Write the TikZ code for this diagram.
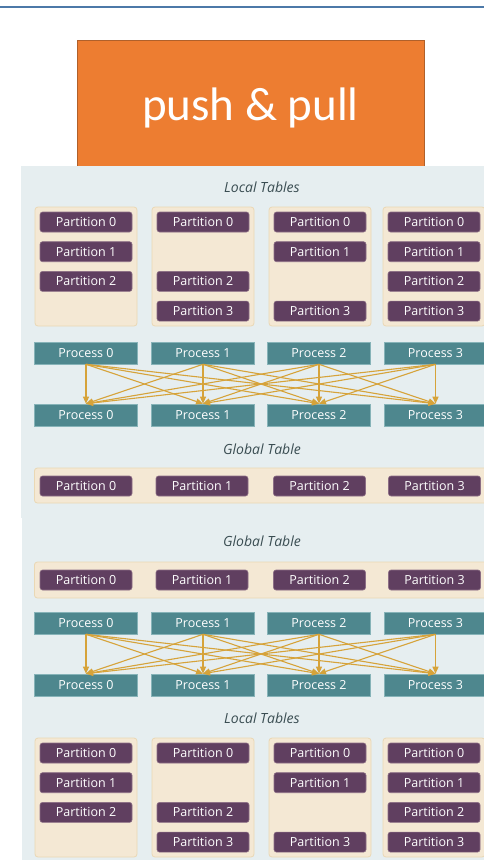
\documentclass[tikz,border=0pt]{standalone}
\usepackage{fontspec}
\setmainfont{Open Sans}
\newfontfamily\calib{Carlito}
\usetikzlibrary{arrows.meta}
\definecolor{topline}{HTML}{4C79A8}
\definecolor{orangefill}{HTML}{ED7D31}
\definecolor{orangeedge}{HTML}{B0602A}
\definecolor{panel}{HTML}{E6EEF0}
\definecolor{beige}{HTML}{F4E8D4}
\definecolor{beigeedge}{HTML}{EAD8B4}
\definecolor{purple}{HTML}{603F60}
\definecolor{purpleedge}{HTML}{8C6E85}
\definecolor{teal}{HTML}{4E878E}
\definecolor{tealedge}{HTML}{86B3B8}
\definecolor{gold}{HTML}{D6A33A}
\definecolor{labelcol}{HTML}{3A4D52}
\tikzset{
  part/.style={draw=purpleedge, line width=0.6pt, fill=purple, rounded corners=2.5pt,
    minimum width=92pt, minimum height=20pt, inner sep=0pt, text=white, font=\fontsize{12.5}{14}\selectfont},
  proc/.style={draw=tealedge, line width=0.6pt, fill=teal, minimum width=103pt, minimum height=22pt,
    inner sep=0pt, text=white, font=\fontsize{12.5}{14}\selectfont},
  holder/.style={draw=beigeedge, line width=0.8pt, fill=beige, rounded corners=3pt, inner sep=0pt},
  tablabel/.style={text=labelcol, font=\fontsize{14}{16}\selectfont\itshape, inner sep=0pt},
  conn/.style={draw=gold, line width=1.1pt, -{Triangle[length=7pt,width=6pt]}},
}
\begin{document}
\begin{tikzpicture}[x=1pt,y=-1pt]
\clip (0,0) rectangle (484,860);
\useasboundingbox (0,0) rectangle (484,860);
\fill[white] (0,0) rectangle (484,860);
% top rule
\draw[topline, line width=2pt] (0,7.3) -- (484,7.3);
% title box
\node[draw=orangeedge, line width=1pt, fill=orangefill, minimum width=347pt, minimum height=140pt,
  anchor=north west, inner sep=0pt] (title) at (77,40) {};
\node[text=white, font=\calib\fontsize{47}{50}\selectfont, anchor=base, inner sep=0pt] (titletext) at (250.5,120) {push \& pull};
% panels
\fill[panel] (21,166) rectangle (484,517.5);
\fill[panel] (21.5,517.5) rectangle (484,860);

% ---------- upper half ----------
\node[tablabel] (lt1) at (262,187) {Local Tables};
\foreach \c/\x in {0/86,1/203,2/320,3/434}{
  \node[holder, minimum width=102pt, minimum height=119pt] (h1c\c) at (\x,266.5) {};
}
\foreach \r/\y in {0/222,1/251,2/281,3/311}{
  \coordinate (ya\r) at (0,\y);
}
% column 0: 0 1 2
\foreach \p in {0,1,2}{ \node[part] (a0p\p) at (86,{222+29.7*\p}) {Partition \p}; }
% column 1: 0 2 3
\foreach \p in {0,2,3}{ \node[part] (a1p\p) at (203,{222+29.7*\p}) {Partition \p}; }
% column 2: 0 1 3
\foreach \p in {0,1,3}{ \node[part] (a2p\p) at (320,{222+29.7*\p}) {Partition \p}; }
% column 3: 0 1 2 3
\foreach \p in {0,1,2,3}{ \node[part] (a3p\p) at (434,{222+29.7*\p}) {Partition \p}; }

\foreach \i/\x in {0/86,1/203,2/319,3/435.5}{
  \node[proc] (pa\i) at (\x,353) {Process \i};
  \node[proc] (pb\i) at (\x,415) {Process \i};
}
\foreach \i in {0,...,3}{
  \foreach \j in {0,...,3}{
    \draw[conn] (pa\i.south) -- (pb\j.north);
  }
}
\node[tablabel] (gt1) at (262,449) {Global Table};
\node[holder, minimum width=460pt, minimum height=35pt, anchor=west] (g1) at (34,485.5) {};
\foreach \p/\x in {0/86,1/202,2/319.5,3/434.5}{
  \node[part] (g1p\p) at (\x,486) {Partition \p};
}

% ---------- lower half ----------
\node[tablabel] (gt2) at (262,541) {Global Table};
\node[holder, minimum width=460pt, minimum height=36pt, anchor=west] (g2) at (34,580) {};
\foreach \p/\x in {0/86,1/202,2/319.5,3/434.5}{
  \node[part] (g2p\p) at (\x,580) {Partition \p};
}
\foreach \i/\x in {0/86,1/203,2/319,3/435.5}{
  \node[proc] (qa\i) at (\x,623) {Process \i};
  \node[proc] (qb\i) at (\x,685) {Process \i};
}
\foreach \i in {0,...,3}{
  \foreach \j in {0,...,3}{
    \draw[conn] (qa\i.south) -- (qb\j.north);
  }
}
\node[tablabel] (lt2) at (262,718) {Local Tables};
\foreach \c/\x in {0/86,1/203,2/320,3/434}{
  \node[holder, minimum width=102pt, minimum height=119pt] (h2c\c) at (\x,797.5) {};
}
\foreach \p in {0,1,2}{ \node[part] (b0p\p) at (86,{753+29.7*\p}) {Partition \p}; }
\foreach \p in {0,2,3}{ \node[part] (b1p\p) at (203,{753+29.7*\p}) {Partition \p}; }
\foreach \p in {0,1,3}{ \node[part] (b2p\p) at (320,{753+29.7*\p}) {Partition \p}; }
\foreach \p in {0,1,2,3}{ \node[part] (b3p\p) at (434,{753+29.7*\p}) {Partition \p}; }
\end{tikzpicture}
\end{document}
